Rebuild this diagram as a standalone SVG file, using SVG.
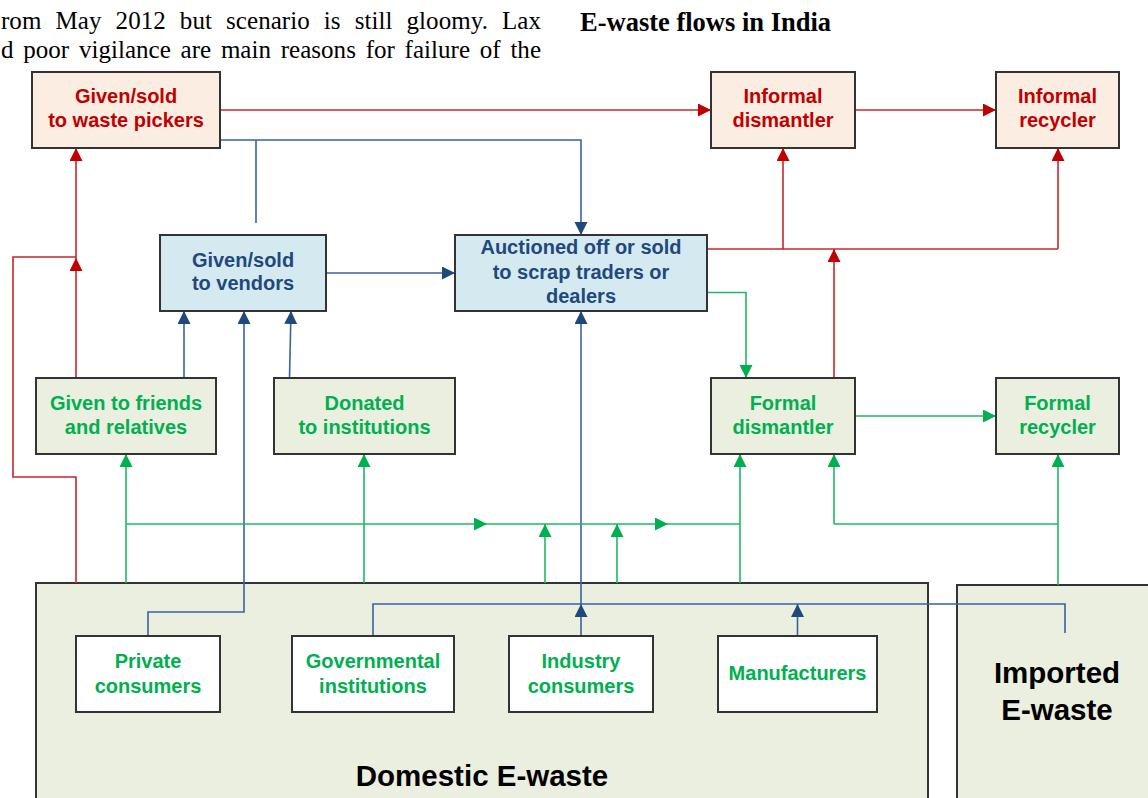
<svg xmlns="http://www.w3.org/2000/svg" width="1148" height="798" viewBox="0 0 1148 798">
<style>
.body{font-family:"Liberation Serif","Times New Roman",serif;font-size:25px;fill:#000}
.title{font-family:"Liberation Serif","Times New Roman",serif;font-size:26.5px;font-weight:bold;fill:#000}
.box{stroke:#333;stroke-width:2}
.pk{fill:#fcede3}
.bl{fill:#d4eaf0}
.gr{fill:#ebefdf}
.wh{fill:#fff}
.t{font-family:"Liberation Sans",Arial,sans-serif;font-weight:bold;font-size:20px;text-anchor:middle}
.tr{fill:#c00000}
.tb{fill:#1f497d}
.tg{fill:#00b050}
.big{font-family:"Liberation Sans",Arial,sans-serif;font-weight:bold;font-size:29.5px;text-anchor:middle;fill:#000}
.lr{fill:none;stroke:#c8262b;stroke-width:1.6}
.lb{fill:none;stroke:#3a62a0;stroke-width:1.6}
.lg{fill:none;stroke:#1fb863;stroke-width:1.6}
.ar{marker-end:url(#mr)}
.ab{marker-end:url(#mb)}
.ag{marker-end:url(#mg)}
</style>
<defs>
<marker id="mr" markerUnits="userSpaceOnUse" markerWidth="14" markerHeight="14" refX="13" refY="6.5" orient="auto"><path d="M0,0 L13,6.5 L0,13 z" fill="#c00000"/></marker>
<marker id="mb" markerUnits="userSpaceOnUse" markerWidth="14" markerHeight="14" refX="13" refY="6.5" orient="auto"><path d="M0,0 L13,6.5 L0,13 z" fill="#1f497d"/></marker>
<marker id="mg" markerUnits="userSpaceOnUse" markerWidth="14" markerHeight="14" refX="13" refY="6.5" orient="auto"><path d="M0,0 L13,6.5 L0,13 z" fill="#00b050"/></marker>
</defs>
<rect width="1148" height="798" fill="#fff"/>
<g id="page-text">
<text class="body" x="1" y="29" word-spacing="7.8" textLength="540" lengthAdjust="spacing">rom May 2012 but scenario is still gloomy. Lax</text>
<text class="body" x="1" y="58" word-spacing="3.5" textLength="540" lengthAdjust="spacing">d poor vigilance are main reasons for failure of the</text>
<text class="title" x="580" y="31">E-waste flows in India</text>
</g>
<g id="domestic"><rect class="box gr" x="36" y="583" width="892" height="230" stroke-width="1.6"/><text class="big" x="482" y="786">Domestic E-waste</text></g>
<g id="imported"><rect class="box gr" x="957" y="585" width="200" height="230" stroke-width="1.6"/><text class="big" x="1057" y="683">Imported</text><text class="big" x="1057" y="720">E-waste</text></g>
<g id="connectors">
<path class="lr ar" d="M220,110 H711"/>
<path class="lr ar" d="M855,110 H996"/>
<path class="lr" d="M707,249 H1058"/>
<path class="lr ar" d="M783,249 V148"/>
<path class="lr ar" d="M1058,249 V148"/>
<path class="lr ar" d="M834,378 V249"/>
<path class="lr ar" d="M76,378 V258"/>
<path class="lr ar" d="M76,258 V148"/>
<path class="lr" d="M76,583 V477 H13 V257 H76"/>
<path class="lb ab" d="M220,140 H581 V235"/>
<path class="lb" d="M256,140 V223"/>
<path class="lb ab" d="M326,273 H455"/>
<path class="lb ab" d="M184,378 V311"/>
<path class="lb ab" d="M289.5,378 L291,311"/>
<path class="lb ab" d="M148,636 V612 H244 V311"/>
<path class="lb ab" d="M581,636 V604"/>
<path class="lb ab" d="M581,604 V311"/>
<path class="lb ab" d="M797.5,636 V604"/>
<path class="lb" d="M373,636 V604 H1065 V633"/>
<path class="lg ag" d="M707,292.5 H746 V378"/>
<path class="lg ag" d="M855,416 H996"/>
<path class="lg ag" d="M126,583 V454"/>
<path class="lg ag" d="M126,524 H487"/>
<path class="lg ag" d="M487,524 H668"/>
<path class="lg" d="M668,524 H740"/>
<path class="lg ag" d="M364,583 V454"/>
<path class="lg ag" d="M740,583 V454"/>
<path class="lg ag" d="M545,583 V524"/>
<path class="lg ag" d="M617,583 V524"/>
<path class="lg ag" d="M1058,585 V454"/>
<path class="lg" d="M1058,524 H834"/>
<path class="lg ag" d="M834,524 V454"/>
</g>
<g id="waste-pickers"><rect class="box pk" x="32" y="72" width="188" height="76"/><text class="t tr" x="126" y="103">Given/sold</text><text class="t tr" x="126" y="127">to waste pickers</text></g>
<g id="informal-dismantler"><rect class="box pk" x="711" y="72" width="144" height="76"/><text class="t tr" x="783" y="103">Informal</text><text class="t tr" x="783" y="127">dismantler</text></g>
<g id="informal-recycler"><rect class="box pk" x="996" y="72" width="123" height="76"/><text class="t tr" x="1057.5" y="103">Informal</text><text class="t tr" x="1057.5" y="127">recycler</text></g>
<g id="vendors"><rect class="box bl" x="160" y="235" width="166" height="76"/><text class="t tb" x="243" y="267">Given/sold</text><text class="t tb" x="243" y="290">to vendors</text></g>
<g id="auctioned"><rect class="box bl" x="455" y="235" width="252" height="76"/><text class="t tb" x="581" y="254">Auctioned off or sold</text><text class="t tb" x="581" y="279">to scrap traders or</text><text class="t tb" x="581" y="303">dealers</text></g>
<g id="friends"><rect class="box gr" x="36" y="378" width="180" height="76"/><text class="t tg" x="126" y="410">Given to friends</text><text class="t tg" x="126" y="434">and relatives</text></g>
<g id="donated"><rect class="box gr" x="274" y="378" width="181" height="76"/><text class="t tg" x="364.5" y="410">Donated</text><text class="t tg" x="364.5" y="434">to institutions</text></g>
<g id="formal-dismantler"><rect class="box gr" x="711" y="378" width="144" height="76"/><text class="t tg" x="783" y="410">Formal</text><text class="t tg" x="783" y="434">dismantler</text></g>
<g id="formal-recycler"><rect class="box gr" x="996" y="378" width="123" height="76"/><text class="t tg" x="1057.5" y="410">Formal</text><text class="t tg" x="1057.5" y="434">recycler</text></g>
<g id="private"><rect class="box wh" x="76" y="636" width="144" height="76"/><text class="t tg" x="148" y="668">Private</text><text class="t tg" x="148" y="693">consumers</text></g>
<g id="governmental"><rect class="box wh" x="292" y="636" width="162" height="76"/><text class="t tg" x="373" y="668">Governmental</text><text class="t tg" x="373" y="693">institutions</text></g>
<g id="industry"><rect class="box wh" x="509" y="636" width="144" height="76"/><text class="t tg" x="581" y="668">Industry</text><text class="t tg" x="581" y="693">consumers</text></g>
<g id="manufacturers"><rect class="box wh" x="718" y="636" width="159" height="76"/><text class="t tg" x="797.5" y="680">Manufacturers</text></g>
</svg>
